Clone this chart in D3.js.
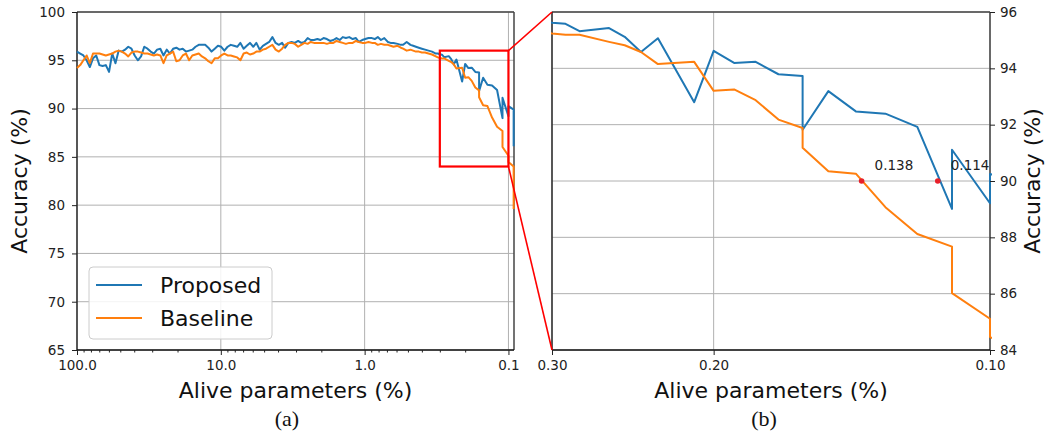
<!DOCTYPE html>
<html><head><meta charset="utf-8">
<script src="https://cdn.jsdelivr.net/npm/d3@7"></script>
<style>
body{margin:0;background:#fff;}
text{font-family:"DejaVu Sans",sans-serif;}
</style></head>
<body><svg id="c" width="1045" height="432"></svg>
<script>
const alive = [100, 95, 90.25, 85.74, 81.45, 77.38, 73.51, 69.83, 66.34, 63.02,
 59.87, 56.88, 54.04, 51.33, 48.77, 46.33, 44.01, 41.81, 39.72, 37.74,
 35.85, 34.06, 32.35, 30.74, 29.20, 27.74, 26.35, 25.03, 23.78, 22.59,
 21.46, 20.39, 19.37, 18.40, 17.48, 16.61, 15.78, 14.99, 14.24, 13.53,
 12.85, 12.21, 11.60, 11.02, 10.47, 9.94, 9.45, 8.97, 8.53, 8.10,
 7.69, 7.31, 6.94, 6.60, 6.27, 5.95, 5.66, 5.37, 5.10, 4.85,
 4.61, 4.38, 4.16, 3.95, 3.75, 3.57, 3.39, 3.22, 3.06, 2.90,
 2.76, 2.62, 2.49, 2.37, 2.25, 2.13, 2.03, 1.93, 1.83, 1.74,
 1.65, 1.57, 1.49, 1.42, 1.35, 1.28, 1.21, 1.15, 1.10, 1.04,
 0.99, 0.94, 0.89, 0.85, 0.81, 0.77, 0.73, 0.69, 0.66, 0.63,
 0.59, 0.56, 0.54, 0.51, 0.48, 0.46, 0.44, 0.42, 0.40, 0.38,
 0.36, 0.34, 0.32, 0.31,
 0.30, 0.29, 0.28, 0.26, 0.25, 0.24, 0.23, 0.21, 0.20, 0.19,
 0.18, 0.17, 0.16, 0.16, 0.15, 0.14, 0.13, 0.12, 0.11, 0.11,
 0.10, 0.10, 0.092, 0.092];

const proposed = [95.9, 95.7, 95.5, 95.0, 94.3, 95.2, 95.5, 94.5, 94.4, 94.5,
 93.8, 95.7, 94.7, 96.0, 95.9, 96.1, 96.4, 96.2, 95.5, 95.0,
 95.4, 96.4, 96.2, 95.9, 95.7, 96.1, 96.2, 95.5, 96.1, 95.7,
 96.2, 96.3, 96.1, 96.2, 95.9, 96.0, 96.1, 96.4, 96.6, 96.6,
 96.6, 96.3, 95.9, 96.2, 96.5, 96.4, 96.0, 96.4, 96.6, 96.5,
 96.4, 96.8, 96.2, 96.5, 96.8, 96.4, 96.8, 96.1, 96.5, 96.7,
 96.9, 97.4, 96.8, 96.6, 96.8, 96.3, 96.8, 96.9, 96.8, 97.0,
 96.8, 96.9, 97.3, 97.1, 97.1, 97.2, 97.1, 97.3, 97.2, 97.0,
 97.1, 97.3, 97.1, 97.4, 97.3, 97.4, 97.2, 97.3, 96.9, 97.1,
 97.2, 97.3, 97.3, 97.2, 97.4, 97.1, 97.3, 96.9, 96.8, 96.8,
 96.7, 96.6, 96.6, 96.9, 96.6, 96.5, 96.4, 96.3, 96.2, 96.1,
 96.0, 95.9, 95.7, 95.7,
 95.62, 95.58, 95.32, 95.43, 95.12, 94.58, 95.07, 92.80, 94.62, 94.19,
 94.23, 93.79, 93.73, 91.82, 93.19, 92.47, 92.39, 91.92, 89.01, 91.11,
 89.21, 90.25, 89.9, 86.1];

const baseline = [94.2, 94.5, 95.0, 95.5, 94.7, 95.7, 95.7, 95.7, 95.6, 95.5,
 95.6, 95.7, 95.9, 96.0, 95.9, 95.7, 95.4, 95.8, 95.9, 95.9,
 95.8, 95.7, 95.7, 95.6, 95.5, 95.6, 95.5, 94.7, 95.5, 95.7,
 95.9, 94.9, 95.0, 95.5, 95.7, 95.0, 95.5, 95.6, 95.7, 95.4,
 95.2, 94.9, 94.7, 95.2, 95.2, 95.5, 95.7, 95.5, 95.5, 95.4,
 95.3, 95.0, 95.7, 95.8, 95.6, 95.7, 95.9, 95.9, 96.1, 96.2,
 96.4, 96.6, 96.1, 95.9, 96.2, 96.6, 96.8, 96.8, 96.7, 96.4,
 96.6, 96.8, 96.7, 96.9, 96.8, 96.8, 96.8, 96.8, 96.7, 96.8,
 96.8, 97.0, 96.9, 96.8, 96.7, 96.8, 96.8, 97.0, 96.9, 96.8,
 96.8, 96.9, 96.8, 96.8, 96.6, 96.7, 96.6, 96.6, 96.5, 96.4,
 96.5, 96.3, 96.2, 96.0, 96.1, 96.0, 95.9, 95.9, 95.8, 95.8,
 95.7, 95.6, 95.4, 95.3,
 95.24, 95.19, 95.19, 94.94, 94.82, 94.58, 94.15, 94.23, 93.20, 93.25,
 92.87, 92.18, 91.88, 91.18, 90.35, 90.26, 89.07, 88.12, 87.67, 86.02,
 85.11, 84.46, 84.0, 79.6];

const seriesNames = ["Proposed", "Baseline"];
const seriesColors = ["#1f77b4", "#ff7f0e"];
const leftXTicks = [100, 10, 1, 0.1];
const leftYTicks = [65, 70, 75, 80, 85, 90, 95, 100];
const rightXTicks = [0.3, 0.2, 0.1];
const rightYTicks = [84, 86, 88, 90, 92, 94, 96];
const markX = [0.138, 0.114];
const markY = 90;
const zoomBox = {x0: 0.3, x1: 0.1, y0: 84, y1: 96};

const svg = d3.select("#c");
svg.append("rect").attr("width",1045).attr("height",432).attr("fill","#fff");

const xL = d3.scaleLog().domain([100, 0.0915]).range([77, 514]);
const yL = d3.scaleLinear().domain([65, 100]).range([350, 12]);
const xR = d3.scaleLog().domain([0.3, 0.1]).range([552, 990]);
const yR = d3.scaleLinear().domain([84, 96]).range([350, 12]);

const series = [proposed, baseline].map(vals => vals.map((v,i)=>({x: alive[i], y: v})));

const defs = svg.append("defs");
defs.append("clipPath").attr("id","clipL").append("rect").attr("x",76).attr("y",11).attr("width",440).attr("height",340);
defs.append("clipPath").attr("id","clipR").append("rect").attr("x",551).attr("y",11).attr("width",441).attr("height",340);

function panel(xs, ys, xt, yt, clip, xfmt, minor, yRight){
  const g = svg.append("g");
  const [x0,x1] = xs.range(), [yb,yt0] = ys.range();
  g.selectAll(".gx").data(xt).join("line").attr("x1",d=>xs(d)).attr("x2",d=>xs(d))
    .attr("y1",yt0).attr("y2",yb).attr("stroke","#b0b0b0").attr("stroke-width",1);
  g.selectAll(".gy").data(yt).join("line").attr("y1",d=>ys(d)).attr("y2",d=>ys(d))
    .attr("x1",x0).attr("x2",x1).attr("stroke","#b0b0b0").attr("stroke-width",1);
  // spines (drawn under lines so the end segments stay visible)
  g.append("line").attr("x1",x0).attr("x2",x1).attr("y1",yt0).attr("y2",yt0).attr("stroke","#444").attr("stroke-width",1.3);
  g.append("line").attr("x1",x1).attr("x2",x1).attr("y1",yt0).attr("y2",yb).attr("stroke","#444").attr("stroke-width",1.5);
  g.append("line").attr("x1",x0).attr("x2",x0).attr("y1",yt0).attr("y2",yb).attr("stroke","#111").attr("stroke-width",1.3);
  g.append("line").attr("x1",x0).attr("x2",x1).attr("y1",yb).attr("y2",yb).attr("stroke","#111").attr("stroke-width",1.3);
  const line = d3.line().x(d=>xs(d.x)).y(d=>ys(d.y));
  const lg = g.append("g").attr("clip-path",`url(#${clip})`);
  series.forEach((s,i)=>{
    lg.append("path").datum(s).attr("d",line).attr("fill","none")
      .attr("stroke",seriesColors[i]).attr("stroke-width",2).attr("stroke-linejoin","round");
  });
  g.append("g").attr("transform",`translate(0,${yb})`)
    .call(d3.axisBottom(xs).tickValues(xt).tickFormat(d3.format(xfmt)).tickSize(5).tickPadding(5));
  if(minor){
    g.append("g").attr("transform",`translate(0,${yb})`)
      .call(d3.axisBottom(xs).tickValues(minor).tickFormat("").tickSize(2.5));
  }
  g.append("g").attr("transform",`translate(${yRight?x1:x0},0)`)
    .call((yRight?d3.axisRight(ys):d3.axisLeft(ys)).tickValues(yt).tickFormat(d3.format("d")).tickSize(5).tickPadding(yRight?5:7));
  g.selectAll(".domain").remove();
  g.selectAll(".tick line").attr("stroke","#222").attr("stroke-width",1);
  g.selectAll(".tick text").attr("font-family","DejaVu Sans, sans-serif").attr("font-size","13.5px").attr("fill","#222");
  return g;
}

const minorL = [];
[10, 1, 0.1].forEach(dec => { for(let m=2;m<=9;m++){ const v=m*dec; if(v<100 && v>0.0915) minorL.push(v);} });

panel(xL, yL, leftXTicks, leftYTicks, "clipL", ".1f", minorL, false);
panel(xR, yR, rightXTicks, rightYTicks, "clipR", ".2f", null, true);

const leg = svg.append("g");
leg.append("rect").attr("x",89).attr("y",267).attr("width",183).attr("height",72).attr("rx",4)
  .attr("fill","#fff").attr("fill-opacity",0.85).attr("stroke","#cccccc").attr("stroke-width",1);
seriesNames.forEach((n,i)=>{
  const yy = 285 + i*33;
  leg.append("line").attr("x1",96).attr("x2",142).attr("y1",yy).attr("y2",yy)
    .attr("stroke",seriesColors[i]).attr("stroke-width",2);
  leg.append("text").attr("x",160).attr("y",yy+8).attr("font-size","22px").attr("fill","#111").text(n);
});

const ann = svg.append("g");
markX.forEach(v=>{
  ann.append("circle").attr("cx",xR(v)).attr("cy",yR(markY)).attr("r",2.8).attr("fill","#e8202a");
  ann.append("text").attr("x",xR(v)+13).attr("y",yR(markY)-11).attr("font-size","13.5px").attr("fill","#222").text(v.toFixed(3));
});

svg.append("rect").attr("x",xL(zoomBox.x0)).attr("y",yL(zoomBox.y1))
  .attr("width",xL(zoomBox.x1)-xL(zoomBox.x0)).attr("height",yL(zoomBox.y0)-yL(zoomBox.y1))
  .attr("fill","none").attr("stroke","red").attr("stroke-width",2.2);
svg.append("line").attr("x1",xL(zoomBox.x1)).attr("y1",yL(zoomBox.y1)).attr("x2",xR(zoomBox.x0)).attr("y2",yR(zoomBox.y1))
  .attr("stroke","red").attr("stroke-width",1.6);
svg.append("line").attr("x1",xL(zoomBox.x1)).attr("y1",yL(zoomBox.y0)).attr("x2",xR(zoomBox.x0)).attr("y2",yR(zoomBox.y0))
  .attr("stroke","red").attr("stroke-width",1.6);

svg.append("text").attr("transform","translate(27,181) rotate(-90)").attr("text-anchor","middle")
  .attr("font-size","22px").attr("fill","#111").text("Accuracy (%)");
svg.append("text").attr("transform","translate(1040,181) rotate(-90)").attr("text-anchor","middle")
  .attr("font-size","22px").attr("fill","#111").text("Accuracy (%)");
svg.append("text").attr("x",295.5).attr("y",398).attr("text-anchor","middle")
  .attr("font-size","22px").attr("fill","#111").text("Alive parameters (%)");
svg.append("text").attr("x",771).attr("y",398).attr("text-anchor","middle")
  .attr("font-size","22px").attr("fill","#111").text("Alive parameters (%)");
svg.append("text").attr("x",287).attr("y",426).attr("text-anchor","middle")
  .style("font-family","'Liberation Serif', serif").attr("font-size","22px").attr("fill","#111").text("(a)");
svg.append("text").attr("x",764).attr("y",426).attr("text-anchor","middle")
  .style("font-family","'Liberation Serif', serif").attr("font-size","22px").attr("fill","#111").text("(b)");
</script></body></html>
